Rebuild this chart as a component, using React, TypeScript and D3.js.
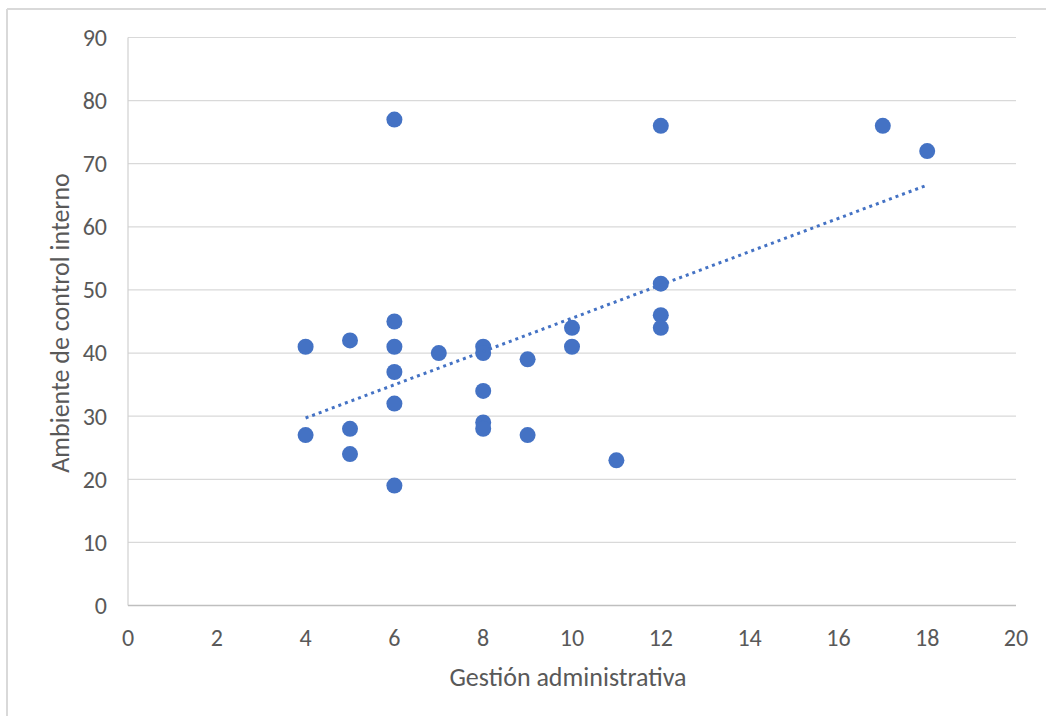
import React from "react";
import * as d3 from "d3";

const xValues = [4, 4, 5, 5, 5, 6, 6, 6, 6, 6, 6, 7, 8, 8, 8, 8, 8, 9, 9, 10, 10, 11, 12, 12, 12, 12, 17, 18];
const yValues = [41, 27, 42, 28, 24, 77, 45, 41, 37, 32, 19, 40, 41, 40, 34, 29, 28, 39, 27, 44, 41, 23, 76, 51, 46, 44, 76, 72];
const xTicks = [0, 2, 4, 6, 8, 10, 12, 14, 16, 18, 20];
const yTicks = [0, 10, 20, 30, 40, 50, 60, 70, 80, 90];
const xTitle = "Gestión administrativa";
const yTitle = "Ambiente de control interno";

const W = 1046;
const H = 716;
const FONT = "Carlito, Calibri, Lato, 'Liberation Sans', sans-serif";

export default function App() {
  const x = d3.scaleLinear().domain([0, 20]).range([128, 1016]);
  const y = d3.scaleLinear().domain([0, 90]).range([605.5, 37.5]);

  const n = xValues.length;
  const mx = d3.mean(xValues) as number;
  const my = d3.mean(yValues) as number;
  let sxy = 0;
  let sxx = 0;
  for (let i = 0; i < n; i++) {
    sxy += (xValues[i] - mx) * (yValues[i] - my);
    sxx += (xValues[i] - mx) * (xValues[i] - mx);
  }
  const slope = sxy / sxx;
  const intercept = my - slope * mx;
  const x0 = d3.min(xValues) as number;
  const x1 = d3.max(xValues) as number;
  const trend = d3.line<number>()
    .x((v) => x(v))
    .y((v) => y(intercept + slope * v))([x0, x1]);

  return (
    <svg
      width={W}
      height={H}
      style={{ position: "absolute", left: 0, top: 0, background: "#fff" }}
      fontFamily={FONT}
    >
      <rect x={0} y={0} width={W} height={H} fill="#fff" />
      <line x1={7} y1={9} x2={7} y2={H} stroke="#d9d9d9" strokeWidth={2} />
      <line x1={7} y1={9} x2={W} y2={9} stroke="#d9d9d9" strokeWidth={2} />
      {yTicks.map((t) => (
        <line key={"g" + t} x1={x(0)} x2={x(20)} y1={y(t)} y2={y(t)} stroke="#d9d9d9" strokeWidth={1.2} />
      ))}
      <line x1={x(0)} x2={x(0)} y1={y(90)} y2={y(0)} stroke="#d0d0d0" strokeWidth={1.2} />
      <line x1={x(0)} x2={x(20)} y1={y(0)} y2={y(0)} stroke="#bfbfbf" strokeWidth={1.5} />
      {yTicks.map((t) => (
        <text key={"yl" + t} x={107} y={y(t)} dy="0.35em" textAnchor="end" fontSize={24} fill="#595959">
          {t}
        </text>
      ))}
      {xTicks.map((t) => (
        <text key={"xl" + t} x={x(t)} y={638} dy="0.35em" textAnchor="middle" fontSize={24} fill="#595959">
          {t}
        </text>
      ))}
      <text x={568} y={677} dy="0.35em" textAnchor="middle" fontSize={26} fill="#595959">
        {xTitle}
      </text>
      <text
        transform={`translate(60,323) rotate(-90)`}
        dy="0.35em"
        textAnchor="middle"
        fontSize={26}
        fill="#595959"
      >
        {yTitle}
      </text>
      {xValues.map((xv, i) => (
        <circle key={"p" + i} cx={x(xv)} cy={y(yValues[i])} r={8} fill="#4472C4" />
      ))}
      <path d={trend || ""} fill="none" stroke="#4472C4" strokeWidth={3} strokeDasharray="3 4" />
    </svg>
  );
}
